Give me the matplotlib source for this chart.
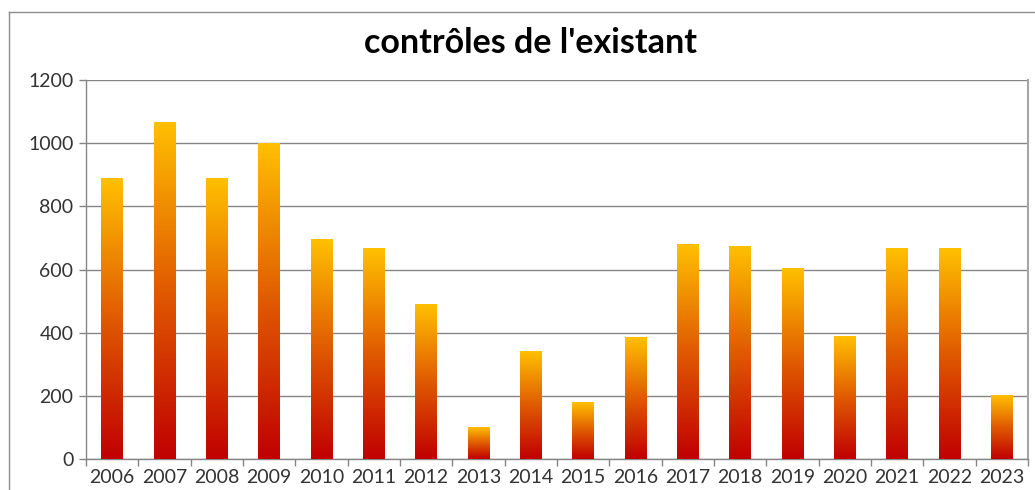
import matplotlib.pyplot as plt
import numpy as np
from matplotlib.colors import LinearSegmentedColormap
from matplotlib.lines import Line2D

years = [str(y) for y in range(2006, 2024)]
controles = [887, 1066, 888, 1000, 694, 665, 488, 101, 340, 180,
             386, 680, 674, 602, 389, 668, 666, 200]

W, H = 1035, 490
plt.rcParams["font.family"] = ["Lato", "DejaVu Sans"]

fig = plt.figure(figsize=(W / 100, H / 100), dpi=100)
ax = fig.add_axes([86 / W, 1 - 459 / H, (1028 - 86) / W, (459 - 80) / H])

grad = LinearSegmentedColormap.from_list("ry", ["#c00000", "#e05a00", "#ffc000"])
x = np.arange(len(years))
bars = ax.bar(x, controles, width=0.42, color="none", edgecolor="none", zorder=3)
g = np.linspace(0, 1, 256).reshape(-1, 1)
for b in bars:
    x0, w, h = b.get_x(), b.get_width(), b.get_height()
    ax.imshow(g, cmap=grad, origin="lower", aspect="auto",
              extent=[x0, x0 + w, 0, h], zorder=3)

ax.set_xlim(-0.5, len(years) - 0.5)
ax.set_ylim(0, 1200)
ax.set_yticks(range(0, 1201, 200))
ax.set_xticks(x)
ax.set_xticklabels(years)
ax.set_xticks(np.arange(-0.5, len(years), 1), minor=True)
ax.tick_params(axis="x", which="major", length=0, pad=7, labelsize=14, colors="#333333")
ax.tick_params(axis="x", which="minor", length=5, width=1, color="#868686")
ax.tick_params(axis="y", length=5, width=1, color="#868686", labelsize=14,
               labelcolor="#333333", pad=4)
ax.grid(True, axis="y", color="#868686", linewidth=1, zorder=0)
ax.spines["top"].set_visible(False)
for s in ["left", "bottom", "right"]:
    ax.spines[s].set_color("#868686")
    ax.spines[s].set_linewidth(1)
ax.spines["right"].set_color("#a6a6a6")
ax.spines["right"].set_linewidth(1.5)

fig.text(531 / W, 1 - 43 / H, "contrôles de l'existant",
         ha="center", va="center", fontsize=24.5, fontweight="bold")

# outer chart border (left and top edges only are visible)
fig.add_artist(Line2D([9 / W, 9 / W], [0, 1 - 12 / H], transform=fig.transFigure,
                      color="#8c8c8c", linewidth=1))
fig.add_artist(Line2D([9 / W, 1], [1 - 12 / H, 1 - 12 / H], transform=fig.transFigure,
                      color="#8c8c8c", linewidth=1))

fig.savefig("out.png", dpi=100)
